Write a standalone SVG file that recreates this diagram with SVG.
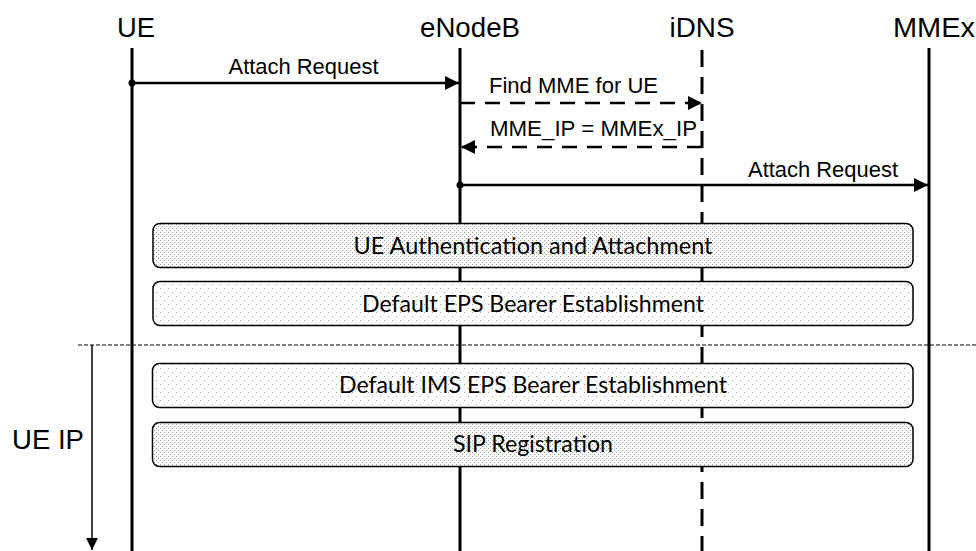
<svg xmlns="http://www.w3.org/2000/svg" width="976" height="551" viewBox="0 0 976 551">
<style>
.title{font-family:"Liberation Sans",Arial,sans-serif;font-size:28px;fill:#000;text-anchor:middle}
.msgt{font-family:"Liberation Sans",Arial,sans-serif;font-size:22px;fill:#000;text-anchor:middle}
.boxt{font-family:Lato,"Open Sans",sans-serif;font-size:23px;fill:#000;text-anchor:middle}
.life{stroke:#000;stroke-width:3;fill:none}
.lifed{stroke:#000;stroke-width:3;fill:none;stroke-dasharray:17 10}
.msg{stroke:#000;stroke-width:2.5;fill:none}
.msgd{stroke:#000;stroke-width:2.5;fill:none;stroke-dasharray:15 10}
.box{stroke:#000;stroke-width:1.5}
</style>
<defs>
<marker id="ah" markerUnits="userSpaceOnUse" markerWidth="14" markerHeight="14" refX="14" refY="7" orient="auto">
<path d="M0,0 L14,7 L0,14 Z" fill="#000"/>
</marker>
<marker id="ahs" markerUnits="userSpaceOnUse" markerWidth="12" markerHeight="12" refX="12" refY="6" orient="auto">
<path d="M0,0 L12,6 L0,12 Z" fill="#000"/>
</marker>
<marker id="dot" markerUnits="userSpaceOnUse" markerWidth="8" markerHeight="8" refX="4" refY="4">
<circle cx="4" cy="4" r="3.5" fill="#000"/>
</marker>
<pattern id="dense" width="4" height="4" patternUnits="userSpaceOnUse">
<rect width="4" height="4" fill="#fff"/>
<rect x="0" y="0" width="1" height="1" fill="#9a9a9a"/>
<rect x="2" y="2" width="1" height="1" fill="#9a9a9a"/>
</pattern>
<pattern id="sparse" width="8" height="8" patternUnits="userSpaceOnUse">
<rect width="8" height="8" fill="#fff"/>
<rect x="0" y="0" width="1" height="1" fill="#a0a0a0"/>
<rect x="4" y="4" width="1" height="1" fill="#a0a0a0"/>
</pattern>
</defs>
<rect width="976" height="551" fill="#fff"/>

<g id="UE">
<text class="title" x="136" y="37" textLength="38" lengthAdjust="spacingAndGlyphs">UE</text>
<line class="life" x1="132" y1="48" x2="132" y2="551"/>
</g>
<g id="eNodeB">
<text class="title" x="470" y="37" textLength="100" lengthAdjust="spacingAndGlyphs">eNodeB</text>
<line class="life" x1="460" y1="48" x2="460" y2="551"/>
</g>
<g id="iDNS">
<text class="title" x="702" y="37" textLength="65" lengthAdjust="spacingAndGlyphs">iDNS</text>
<line class="lifed" x1="702" y1="50" x2="702" y2="551"/>
</g>
<g id="MMEx">
<text class="title" x="934" y="37" textLength="82" lengthAdjust="spacingAndGlyphs">MMEx</text>
<line class="life" x1="929" y1="48" x2="929" y2="551"/>
</g>

<g id="connectors">
<line class="msg" x1="132" y1="83" x2="459" y2="83" marker-start="url(#dot)" marker-end="url(#ah)"/>
<text class="msgt" x="303.5" y="74" textLength="150" lengthAdjust="spacingAndGlyphs">Attach Request</text>
<line class="msgd" x1="460" y1="103" x2="702" y2="103" marker-end="url(#ah)"/>
<text class="msgt" x="573.5" y="93" textLength="169" lengthAdjust="spacingAndGlyphs">Find MME for UE</text>
<line class="msgd" x1="702" y1="147" x2="461" y2="147" marker-end="url(#ah)"/>
<text class="msgt" x="593.5" y="136" textLength="207" lengthAdjust="spacingAndGlyphs">MME_IP = MMEx_IP</text>
<line class="msg" x1="460" y1="185" x2="928" y2="185" marker-start="url(#dot)" marker-end="url(#ah)"/>
<text class="msgt" x="823" y="177" textLength="150" lengthAdjust="spacingAndGlyphs">Attach Request</text>
<line x1="78" y1="345" x2="976" y2="345" stroke="#000" stroke-width="1" stroke-dasharray="4 2"/>
<line x1="92" y1="345" x2="92" y2="550" stroke="#000" stroke-width="1.5" marker-end="url(#ahs)"/>
<text class="title" x="48" y="449" textLength="72" lengthAdjust="spacingAndGlyphs">UE IP</text>
</g>

<g id="auth">
<rect class="box" x="153" y="223.5" width="760" height="44" rx="7" fill="url(#dense)"/>
<text class="boxt" x="533" y="254" textLength="359" lengthAdjust="spacingAndGlyphs">UE Authentication and Attachment</text>
</g>
<g id="eps">
<rect class="box" x="153" y="281.5" width="760" height="44" rx="7" fill="url(#sparse)"/>
<text class="boxt" x="533" y="312" textLength="342" lengthAdjust="spacingAndGlyphs">Default EPS Bearer Establishment</text>
</g>
<g id="ims">
<rect class="box" x="152.5" y="363.5" width="760.5" height="44" rx="7" fill="url(#sparse)"/>
<text class="boxt" x="533" y="393" textLength="388" lengthAdjust="spacingAndGlyphs">Default IMS EPS Bearer Establishment</text>
</g>
<g id="sip">
<rect class="box" x="152.5" y="422.5" width="760.5" height="44" rx="7" fill="url(#dense)"/>
<text class="boxt" x="533" y="452" textLength="160" lengthAdjust="spacingAndGlyphs">SIP Registration</text>
</g>
</svg>
